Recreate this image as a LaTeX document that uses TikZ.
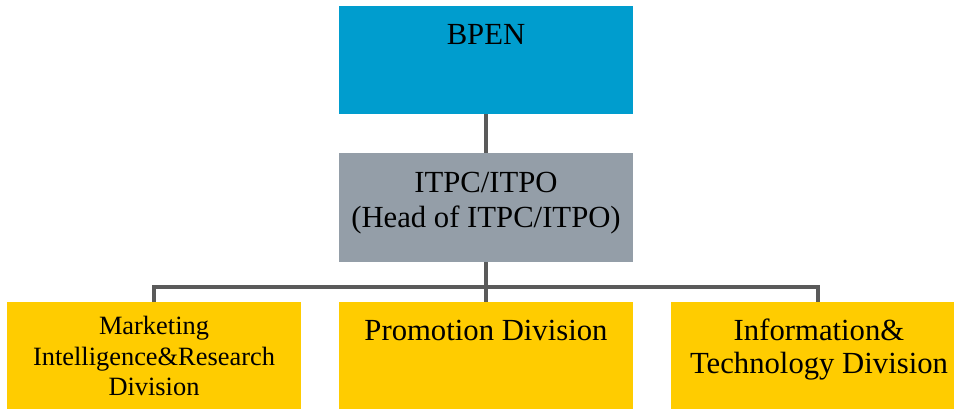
\documentclass[tikz,border=0pt]{standalone}
\usepackage{fontspec}
\setmainfont{Liberation Serif}
\definecolor{bpenblue}{RGB}{0,157,206}
\definecolor{itpcgray}{RGB}{148,158,168}
\definecolor{divyellow}{RGB}{255,204,0}
\definecolor{conngray}{RGB}{90,90,90}
\begin{document}
\begin{tikzpicture}[x=1pt,y=-1pt,
  box/.style={rectangle, draw=none, inner sep=0pt, minimum width=294pt, minimum height=108pt, anchor=north west},
  txt/.style={anchor=base, inner sep=0pt, font=\fontsize{30.7}{36}\selectfont},
  smalltxt/.style={anchor=base, inner sep=0pt, font=\fontsize{26.4}{31}\selectfont},
  conn/.style={draw=conngray, line width=4.5pt, line join=miter}]
\useasboundingbox (0,0) rectangle (954,409);
\begin{scope}
\clip (0,0) rectangle (954,409);
\node[box, fill=bpenblue] (bpen) at (339,6) {};
\node[box, fill=itpcgray, minimum height=109pt] (itpc) at (339,153) {};
\node[box, fill=divyellow, minimum height=107pt] (mkt) at (7,302) {};
\node[box, fill=divyellow, minimum height=107pt] (promo) at (339,302) {};
\node[box, fill=divyellow, minimum height=107pt] (info) at (671,302) {};
\coordinate (bus) at (486,287);
\draw[conn] (bpen.south) -- (itpc.north);
\draw[conn] (itpc.south) -- (promo.north);
\draw[conn] (mkt.north) |- (bus) -| (info.north);
\node[txt] (t1) at (486,45) {BPEN};
\node[txt] (t2) at (486,193) {ITPC/ITPO};
\node[txt] (t3) at (486,228) {(Head of ITPC/ITPO)};
\node[smalltxt] (t4) at (154,334) {Marketing};
\node[smalltxt] (t5) at (154,365) {Intelligence\&Research};
\node[smalltxt] (t6) at (154,395) {Division};
\node[txt] (t7) at (486,340) {Promotion Division};
\node[txt] (t8) at (819,340) {Information\&};
\node[txt] (t9) at (819,373) {Technology Division};
\end{scope}
\end{tikzpicture}
\end{document}
